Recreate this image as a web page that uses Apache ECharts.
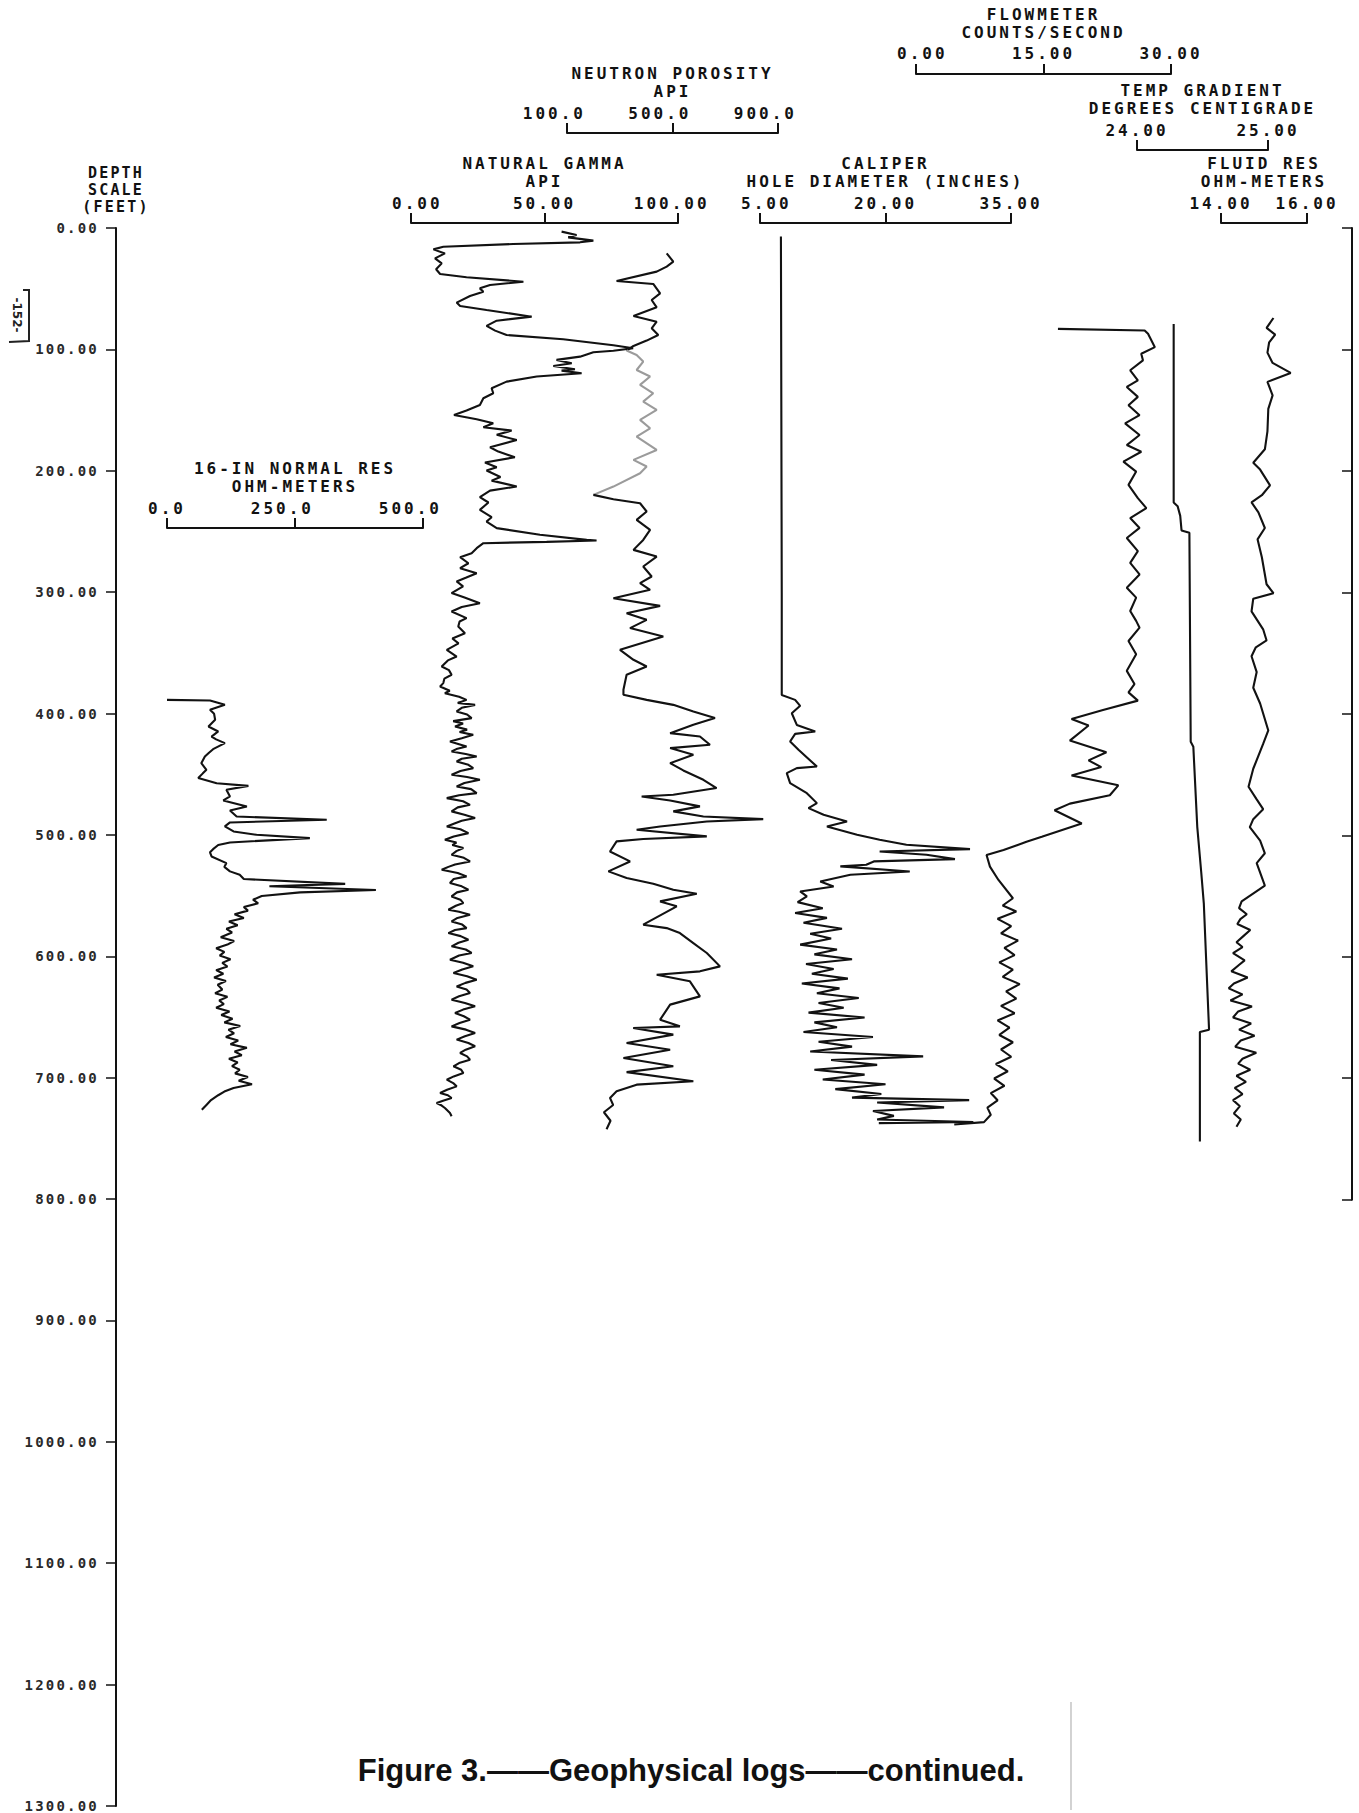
<!DOCTYPE html>
<html>
<head>
<meta charset="utf-8">
<title>Geophysical logs</title>
<script src="https://cdn.jsdelivr.net/npm/echarts@6/dist/echarts.min.js"></script>
<style>
  html, body { margin: 0; padding: 0; background: #ffffff; }
  #log { width: 1359px; height: 1813px; }
  /* plotter lettering is widely spaced */
  #log text[style*="monospace"] { letter-spacing: 3px; }
  #log text[style*="Liberation Mono"] { letter-spacing: 2.2px; }
</style>
</head>
<body>
<div id="log"></div>
<script>
// ---- log readings: [depth (ft), reading] ----
const normalRes = [
  [388.5, 0], [389, 84], [392.6, 113], [396.7, 84], [400, 92], [404.9, 94], [410.4, 81], [414.5, 100],
  [418.7, 87], [421, 96], [424.1, 113], [429.1, 90], [432, 82], [435.1, 74], [440.6, 67], [446.1, 77],
  [449, 70], [452.9, 61], [457.1, 97], [459.3, 159], [462.5, 116], [468, 123], [471.3, 110], [476.3, 156],
  [479.6, 123], [484.5, 136], [487.2, 312], [489.4, 123], [492.7, 113], [496.8, 130], [499.6, 175],
  [502.3, 279], [505.9, 123], [508, 100], [511.4, 90], [514, 84], [517.4, 87], [522.9, 116], [526, 112],
  [529.7, 123], [532.5, 142], [536, 150], [540, 348], [542, 200], [545, 408], [547, 260], [550, 185],
  [553, 168], [556, 178], [559, 150], [562, 158], [565, 132], [568, 150], [571, 121], [574, 138],
  [577, 116], [580, 127], [584, 105], [587, 131], [590, 118], [593, 96], [596, 112], [599, 103],
  [602, 124], [605, 108], [608, 118], [611, 96], [614, 110], [617, 92], [620, 115], [623, 99],
  [627, 108], [630, 94], [633, 118], [636, 102], [639, 111], [642, 96], [645, 122], [648, 106],
  [651, 128], [654, 112], [657, 143], [660, 120], [663, 131], [666, 115], [669, 139], [672, 124],
  [675, 156], [678, 132], [681, 146], [684, 121], [687, 138], [690, 127], [693, 142], [696, 133],
  [699, 158], [702, 140], [705, 166], [708, 130], [711, 112], [714, 100], [718, 86], [722, 77], [726, 68]
];

const naturalGamma = [
  [3, 56.4], [5.8, 62], [7.7, 58.9], [10.4, 68.3], [11.8, 63.3], [13.2, 38.3], [15.4, 12.1],
  [17.6, 8.4], [20.9, 12.7], [25, 9], [29.1, 11.5], [34, 9.4], [37.9, 10.9], [40.6, 20.8],
  [44.2, 42.1], [46.9, 29.6], [49.7, 25.8], [52.4, 27.1], [56, 22.1], [61.4, 17.1], [64.2, 18.4],
  [67.5, 28.3], [73, 45.2], [76.3, 32.1], [80.6, 28.3], [84.5, 31.5], [88.1, 35.8], [91.6, 57],
  [96.6, 75.8], [99, 83.2], [101, 75.8], [102.3, 68.3], [105.9, 63.3], [108.6, 54.5], [111.4, 60.2],
  [113.6, 53.3], [116.3, 61.4], [117.4, 56.4], [119.6, 63.9], [122.3, 47.1], [126.5, 35.8],
  [131.9, 30.2], [136.1, 30.8], [140.2, 27.1], [145.7, 25.8], [150.3, 20.8], [153.9, 16.1],
  [157.5, 24.6], [160.7, 30.8], [164, 27.1], [166.8, 37.7], [170.3, 32.1], [174.5, 39.6],
  [180.5, 29.6], [184.1, 32.7], [188.7, 38.9], [193.1, 27.7], [196.9, 32.1], [199.7, 28.3],
  [205, 33.5], [208, 30.2], [212.8, 39.6], [216.2, 29.6], [221.6, 25.8], [226, 29], [232.1, 25.8],
  [238.1, 30.2], [241.7, 28.3], [247.1, 32.1], [252.6, 48.3], [256.8, 65.8], [257.3, 69.5],
  [258.4, 50.8], [259.5, 27.1], [263.6, 24.6], [267.7, 22.7], [271, 18.4], [276, 21.5], [280.1, 18.4],
  [284.2, 24.6], [288, 20.5], [291, 17.1], [295, 19.5], [300.6, 15.2], [304, 19.8], [308.9, 25.8],
  [312, 19.0], [315.7, 15.2], [321.2, 20.8], [324, 18.2], [328.1, 17.7], [333.6, 20.2], [338, 15.5],
  [342, 17.8], [347.3, 13.4], [352.8, 17.1], [356, 13.8], [361, 11.5], [364, 14.2], [367.8, 15.2],
  [371, 12.5], [374.7, 12.1], [377.5, 10.9], [381, 14.5], [383, 12.7], [386, 18], [388.5, 20.8],
  [391, 17.5], [392.6, 24], [395, 19], [398, 17.1], [400.5, 21], [403.5, 22.7], [406, 15.8], [408, 19.5],
  [410.4, 16.5], [413, 21], [415, 18.2], [417.3, 23.3], [420, 19], [422.7, 14.6], [425, 18],
  [426.9, 20.8], [429, 17], [431, 15.2], [433, 20.5], [435.1, 24.6], [437, 19], [439.2, 17.1],
  [442, 21.5], [444.7, 23.3], [447, 18.5], [450.2, 15.2], [452, 21], [454.3, 25.8], [457, 20],
  [459.8, 17.1], [462, 22.5], [465.3, 24.6], [467, 18], [469.4, 13.4], [472, 19.5], [474.9, 22.1],
  [477, 17.5], [480.3, 15.2], [483, 20], [485.8, 24], [488, 19], [490, 16.5], [492.7, 13.4], [495, 18.5],
  [498.2, 21.5], [501, 16], [503.7, 12.7], [506, 17], [508, 15.5], [510.5, 19.6], [513, 17], [516, 15.2],
  [518.5, 19.8], [521.5, 22.1], [524, 16.5], [526, 14], [528.4, 11.5], [531, 17.5], [533.8, 20.8],
  [536, 16], [539.3, 14.6], [542, 19], [544.8, 21.5], [547, 17.2], [550.3, 15.2], [553, 18.5],
  [555.8, 19.6], [558, 16.8], [561.3, 14], [563, 18], [565.4, 22.1], [568, 17.4], [570.9, 15.2],
  [573.5, 19.2], [576.4, 20.8], [578, 16.5], [580.5, 14], [583, 18.6], [586, 21.5], [588.5, 17.8],
  [591.4, 15.2], [594, 20.5], [596.9, 22.7], [599, 18], [602.4, 14.6], [605, 19.5], [607.9, 23.3],
  [610.5, 19.2], [613.4, 15.9], [616, 21], [618.9, 24.6], [621.5, 20.4], [624.4, 17.1], [627, 20.8],
  [629.8, 22.1], [632.5, 18], [635.3, 15.2], [638, 20.2], [640.8, 24], [643.5, 19.5], [646.3, 16.5],
  [649, 19.8], [651.8, 22.1], [654.5, 18.2], [657.3, 15.2], [660, 20.6], [662.8, 24], [665.5, 20.2],
  [668.2, 17.1], [671, 21.5], [673.7, 24], [676.5, 20.5], [679.2, 18.4], [682, 21], [684.7, 22.1],
  [687.5, 18], [690.2, 15.9], [693, 18.8], [695.7, 19.6], [698.5, 16], [701.2, 13.4], [704, 15.8],
  [706.7, 17.1], [709.5, 13.5], [712.1, 10.9], [714, 13.8], [716.3, 15.2], [718.5, 12], [720.4, 9.6],
  [722.5, 11.5], [724.5, 12.7], [728.6, 14.6], [731.3, 15.2]
];

const neutronPorosity = [
  [20.9, 478], [27.7, 503], [31.8, 478], [35.9, 440], [43.6, 288], [46.1, 427], [53.8, 453],
  [59.3, 421], [65.3, 440], [72.4, 352], [77.1, 440], [82.6, 421], [88.1, 446], [92.7, 402],
  [97.1, 352], [100.9, 326], [104.5, 364], [110, 389], [116.9, 364], [122.3, 415], [129.2, 377],
  [136.1, 427], [142.9, 389], [149.8, 440], [158, 377], [164.9, 415], [171.7, 364], [182.7, 440],
  [190.9, 352], [196.4, 402], [201.9, 377], [212.9, 276], [219.7, 200], [223.3, 276], [226.6, 377],
  [233.4, 402], [240.3, 364], [248.5, 415], [256.8, 389], [265, 352], [270.5, 440], [278.7, 389],
  [286.9, 421], [292.4, 377], [297.9, 415], [304.8, 276], [311.1, 453], [317.1, 326], [322.6, 402],
  [329.4, 339], [336.3, 465], [347.3, 301], [355.5, 352], [361, 402], [367.8, 326], [380.2, 314],
  [384.3, 314], [388.5, 402], [392.6, 503], [398.1, 579], [403.5, 661], [409, 579], [415.9, 491],
  [418.6, 604], [425.5, 642], [428.2, 491], [433.7, 579], [440.6, 491], [446.6, 541], [454.3, 617],
  [461.1, 667], [466.6, 503], [468, 383], [471.3, 491], [476.2, 604], [480.3, 503], [484.5, 617],
  [486.7, 844], [488.6, 630], [492.7, 453], [495.4, 364], [500.9, 630], [503.1, 389], [505, 288],
  [513.3, 263], [521.5, 339], [529.7, 257], [535.2, 326], [539.9, 427], [544.8, 503], [548.1, 592],
  [554.4, 453], [558.5, 516], [573.6, 389], [576.4, 478], [580.5, 528], [588.7, 579], [596.9, 630],
  [607.9, 680], [612, 604], [614.8, 440], [620.2, 566], [632.6, 604], [639.4, 491], [651.8, 453],
  [657.3, 528], [658.6, 351], [664.1, 503], [671, 326], [676.5, 491], [683.3, 314], [690.2, 503],
  [695, 326], [702.5, 579], [705.3, 364], [710.8, 288], [716.2, 263], [722, 275], [728, 240],
  [735, 265], [742, 250]
];
// the neutron trace printed faintly over this depth interval
const neutronFaint = [100.9, 219.7];

const caliper = [
  [7, 7.5], [150, 7.55], [300, 7.6], [384.4, 7.6], [388.5, 9.2], [393.4, 9.8], [399.5, 8.8],
  [409.1, 9.4], [414.5, 11.6], [416.5, 9.2], [422.8, 8.6], [429.6, 9.6], [443.4, 11.8], [444.7, 9.4],
  [448.8, 8.2], [457.1, 8.6], [465.3, 10.6], [473.5, 11.8], [477.6, 10.8], [483.1, 12.6], [488.6, 15.4],
  [492.7, 13], [499.6, 16.6], [503.7, 19.3], [507.8, 22.5], [511.4, 30.1], [513.3, 19.3], [516, 24.9],
  [519.6, 28.3], [521.5, 18.6], [524.3, 17.7], [525.6, 14.6], [529.8, 22.9], [532.5, 15.8], [538, 12.2],
  [542.1, 13.8], [546.2, 9.8], [550.3, 10.6], [555, 9.5], [560, 12.5], [564, 9.2], [568, 13], [572, 10.2],
  [577, 14.8], [581, 11], [585, 13.5], [590, 9.8], [594, 14.2], [598, 11.5], [602, 16], [606, 10.5],
  [610, 13.8], [614, 11.2], [618, 15.5], [622, 10], [626, 14.5], [630, 11.8], [634, 16.8], [638, 12],
  [642, 15], [646, 10.8], [650, 17.5], [654, 11.5], [658, 14.2], [662, 10.2], [666, 18.5], [670, 12],
  [674, 16], [678, 11], [682, 24.5], [685, 13.5], [689, 19], [693, 11.5], [697, 17.5], [701, 12.5],
  [705, 20], [709, 14], [713, 19.5], [716, 16], [718, 30], [720, 19], [724, 27], [727, 18.5], [731, 21],
  [734, 19], [736, 30.5], [737, 19.2]
];

const flowmeter = [
  [78.5, 16.7], [79.8, 26.9], [82.6, 27.3], [93.6, 28.1], [99, 26.5], [104.5, 26.7], [112.7, 25.2],
  [121, 26.1], [126.5, 24.8], [134.7, 26.1], [141.6, 25], [149.8, 26.3], [156.6, 24.6], [166.2, 26.3],
  [174.5, 24.8], [180, 26.5], [188.2, 24.4], [196.4, 25.9], [207.4, 25], [218.4, 26.1], [226.6, 27.1],
  [234.8, 25.2], [243, 26.3], [251.3, 24.8], [262.2, 26.1], [271.8, 25.2], [281.4, 26.3], [292.4, 24.8],
  [300.6, 25.9], [311.6, 25.2], [319.8, 25.9], [325.4, 26.3], [336.4, 25], [347.3, 25.9], [361.1, 24.8],
  [372, 25.7], [378.9, 25], [385.7, 26.1], [393.4, 22], [400.8, 18.3], [406.3, 20.3], [418.7, 18.1],
  [428.3, 22.4], [435.1, 20.3], [440.6, 21.8], [447.5, 18.3], [455.7, 23.8], [463.9, 22.8], [470.8, 18.1],
  [476.3, 16.3], [487.2, 19.5], [498.2, 14.8], [502.3, 13], [509.2, 10.3], [513.3, 8.3], [522.9, 8.7],
  [533.9, 9.7], [549, 11.4], [555, 10.2], [560, 11.8], [566, 9.6], [572, 11.2], [578, 10], [584, 12],
  [590, 10.4], [596, 11.6], [602, 9.8], [608, 11.4], [614, 10.2], [620, 12.2], [626, 10.6], [632, 11.8],
  [638, 10], [644, 11.6], [650, 9.6], [656, 11], [662, 9.8], [668, 11.4], [674, 10], [680, 11.2],
  [686, 9.4], [692, 10.8], [698, 9.2], [704, 10.4], [710, 8.8], [716, 9.6], [722, 8.4], [728, 8.8],
  [734, 8], [736, 4.5]
];

const tempGradient = [
  [79, 24.28], [226, 24.28], [229, 24.31], [237, 24.33], [249, 24.34], [251, 24.4], [423, 24.41],
  [427, 24.43], [493, 24.46], [530, 24.49], [556, 24.51], [660, 24.55], [662, 24.48], [752, 24.48]
];

const fluidRes = [
  [74.1, 15.22], [82.2, 15.06], [87.8, 15.26], [94.1, 15.12], [102.6, 15.08], [111.1, 15.2],
  [119.3, 15.62], [126.7, 15.08], [137.8, 15.2], [148.9, 15.1], [167.4, 15.08], [182.2, 15.02],
  [193.3, 14.75], [198.9, 14.91], [211.9, 15.14], [220, 14.95], [225.9, 14.71], [234.1, 14.87],
  [247, 15.02], [256.3, 14.85], [271.1, 14.95], [293.3, 15.06], [300.7, 15.22], [305.2, 14.75],
  [315.6, 14.71], [330.4, 14.98], [339.6, 15.06], [345.2, 14.81], [352.6, 14.71], [365.6, 14.83],
  [378.5, 14.75], [391.5, 14.91], [413.7, 15.1], [424.8, 14.98], [445.2, 14.75], [460, 14.64],
  [470.4, 14.83], [478.5, 14.98], [486.7, 14.75], [493.3, 14.67], [504.4, 14.91], [514.8, 15.02],
  [522.9, 14.83], [541.5, 15.02], [554.4, 14.48], [560, 14.42], [565, 14.6], [569, 14.45],
  [573, 14.38], [578, 14.68], [583, 14.52], [588, 14.36], [592, 14.5], [597, 14.28], [603, 14.55],
  [607, 14.41], [612, 14.24], [617, 14.62], [622, 14.3], [626, 14.18], [631, 14.5], [636, 14.22],
  [641, 14.72], [645, 14.4], [650, 14.28], [655, 14.7], [660, 14.42], [665, 14.78], [669, 14.46],
  [674, 14.33], [679, 14.82], [684, 14.5], [688, 14.4], [693, 14.68], [698, 14.36], [703, 14.58],
  [708, 14.32], [713, 14.5], [718, 14.28], [723, 14.44], [729, 14.3], [734, 14.46], [740, 14.36]
];

// ---- scale ticks ----
const depthTicks = [0, 100, 200, 300, 400, 500, 600, 700, 800, 900, 1000, 1100, 1200, 1300];
const normalResTicks = [0, 250, 500];
const gammaTicks = [0, 50, 100];
const neutronTicks = [100, 500, 900];
const caliperTicks = [5, 20, 35];
const flowTicks = [0, 15, 30];
const tempTicks = [24, 25];
const fluidTicks = [14, 16];

// ---- drawing ----
const INK = '#121212';
const FAINT = '#9b9b9b';
const HEAD_FONT = '"DejaVu Sans Mono", monospace';
const DEPTH_FONT = '"DejaVu Sans Mono", "Liberation Mono"';
const TOP = 228;          // 0 ft
const PLOT_H = 1579;      // 0 .. 1300 ft
const FT_MAX = 1300;
const TRACE_W = 2.1;

// keep the decimal point of a scale number over its tick
function pointCentred(v, digits) {
  const s = v.toFixed(digits);
  const [a, b] = s.split('.');
  const pad = '\u00A0';
  if (a.length < b.length) return pad.repeat(b.length - a.length) + s;
  if (a.length > b.length) return s + pad.repeat(a.length - b.length);
  return s;
}

const tracks = [
  { left: 116, right: 117 },   // depth scale
  { left: 167, right: 423 },   // 16-in normal res
  { left: 411, right: 678 },   // natural gamma
  { left: 567, right: 778 },   // neutron porosity
  { left: 760, right: 1011 },  // caliper
  { left: 916, right: 1171 },  // flowmeter
  { left: 1137, right: 1268 }, // temp gradient
  { left: 1221, right: 1307 }, // fluid res
  { left: 1352, right: 1353 }  // right depth frame
];

const grid = tracks.map((t, i) => ({
  left: t.left, width: t.right - t.left, top: TOP,
  height: i === 8 ? PLOT_H * 800 / FT_MAX : PLOT_H
}));

function scaleAxis(gi, min, max, ticks, digits, name, lift) {
  return {
    gridIndex: gi, type: 'value', min: min, max: max, position: 'top', offset: lift,
    axisLine: { show: true, onZero: false, lineStyle: { color: INK, width: 2 } },
    axisTick: { show: true, customValues: ticks, length: 10, inside: false, lineStyle: { color: INK, width: 2 } },
    axisLabel: {
      show: true, customValues: ticks, formatter: v => pointCentred(v, digits),
      margin: 12, fontFamily: HEAD_FONT, fontWeight: 'bold', fontSize: 16, lineHeight: 16, color: INK
    },
    splitLine: { show: false },
    name: name, nameLocation: 'middle', nameGap: 29,
    nameTextStyle: { fontFamily: HEAD_FONT, fontWeight: 'bold', fontSize: 16, lineHeight: 18, color: INK, align: 'center' }
  };
}

const xAxis = [
  { gridIndex: 0, type: 'value', min: 0, max: 1, show: false },
  scaleAxis(1, 0, 500, normalResTicks, 1, '16-IN NORMAL RES\nOHM-METERS', -300),
  scaleAxis(2, 0, 100, gammaTicks, 2, 'NATURAL GAMMA\nAPI', 5),
  scaleAxis(3, 100, 900, neutronTicks, 1, 'NEUTRON POROSITY\nAPI', 95),
  scaleAxis(4, 5, 35, caliperTicks, 2, 'CALIPER\nHOLE DIAMETER (INCHES)', 5),
  scaleAxis(5, 0, 30, flowTicks, 2, 'FLOWMETER\nCOUNTS/SECOND', 160),
  scaleAxis(6, 24, 25, tempTicks, 2, 'TEMP GRADIENT\nDEGREES CENTIGRADE', 78),
  scaleAxis(7, 14, 16, fluidTicks, 2, 'FLUID RES\nOHM-METERS', 5),
  { gridIndex: 8, type: 'value', min: 0, max: 1, show: false }
];

const yAxis = tracks.map((t, i) => ({
  gridIndex: i, type: 'value', min: 0, max: FT_MAX, inverse: true, show: false
}));

yAxis[0] = {
  gridIndex: 0, type: 'value', min: 0, max: FT_MAX, inverse: true, position: 'left',
  axisLine: { show: true, onZero: false, lineStyle: { color: INK, width: 2 } },
  axisTick: { show: true, customValues: depthTicks, length: 10, lineStyle: { color: INK, width: 1.5 } },
  axisLabel: {
    show: true, customValues: depthTicks, formatter: v => v.toFixed(2), margin: 17,
    fontFamily: DEPTH_FONT, fontWeight: 'bold', fontSize: 14, color: '#2a2a2a'
  },
  splitLine: { show: false },
  name: 'DEPTH\nSCALE\n(FEET)', nameLocation: 'start', nameGap: 13,
  nameTextStyle: { fontFamily: DEPTH_FONT, fontWeight: 'bold', fontSize: 15, lineHeight: 17, color: INK, align: 'center', verticalAlign: 'bottom' }
};

yAxis[8] = {
  gridIndex: 8, type: 'value', min: 0, max: 800, interval: 100, inverse: true, position: 'left',
  axisLine: { show: true, onZero: false, lineStyle: { color: INK, width: 2 } },
  axisTick: { show: true, length: 10, lineStyle: { color: INK, width: 1.5 } },
  axisLabel: { show: false }, splitLine: { show: false }
};

function logSeries(gi, rows, color) {
  return {
    type: 'line', xAxisIndex: gi, yAxisIndex: gi, symbol: 'none', clip: false,
    data: rows.map(r => [r[1], r[0]]),
    lineStyle: { color: color || INK, width: TRACE_W }, animation: false
  };
}

// rows of a trace between two depths, end points included
function depthSlice(rows, from, to) {
  return rows.filter(r => r[0] >= from && r[0] <= to);
}

const series = [
  logSeries(1, normalRes),
  logSeries(2, naturalGamma),
  logSeries(3, depthSlice(neutronPorosity, 0, neutronFaint[0])),
  logSeries(3, depthSlice(neutronPorosity, neutronFaint[0], neutronFaint[1]), FAINT),
  logSeries(3, depthSlice(neutronPorosity, neutronFaint[1], FT_MAX)),
  logSeries(4, caliper),
  logSeries(5, flowmeter),
  logSeries(6, tempGradient),
  logSeries(7, fluidRes)
];

const chart = echarts.init(document.getElementById('log'), null, { renderer: 'svg' });
chart.setOption({
  backgroundColor: '#ffffff',
  animation: false,
  grid: grid,
  xAxis: xAxis,
  yAxis: yAxis,
  series: series,
  graphic: [
    {
      type: 'text', x: 17, y: 315, rotation: -Math.PI / 2,
      style: { text: '-152-', fontFamily: 'DejaVu Sans', fontWeight: 'bold', fontSize: 12, fill: '#222', align: 'center', verticalAlign: 'middle' }
    },
    {
      type: 'polyline',
      shape: { points: [[23, 290], [29, 290], [29, 341], [9, 342]] },
      style: { stroke: '#222', lineWidth: 2, fill: 'none' }
    },
    {
      type: 'text', x: 691, y: 1770,
      style: {
        text: 'Figure 3.\u2014\u2014Geophysical logs\u2014\u2014continued.',
        fontFamily: 'Liberation Sans', fontWeight: 'bold', fontSize: 31, fill: '#111',
        align: 'center', verticalAlign: 'middle'
      }
    },
    {
      type: 'line', shape: { x1: 1071, y1: 1702, x2: 1071, y2: 1810 },
      style: { stroke: '#b5b5b5', lineWidth: 1.2 }
    }
  ]
});
</script>
</body>
</html>
